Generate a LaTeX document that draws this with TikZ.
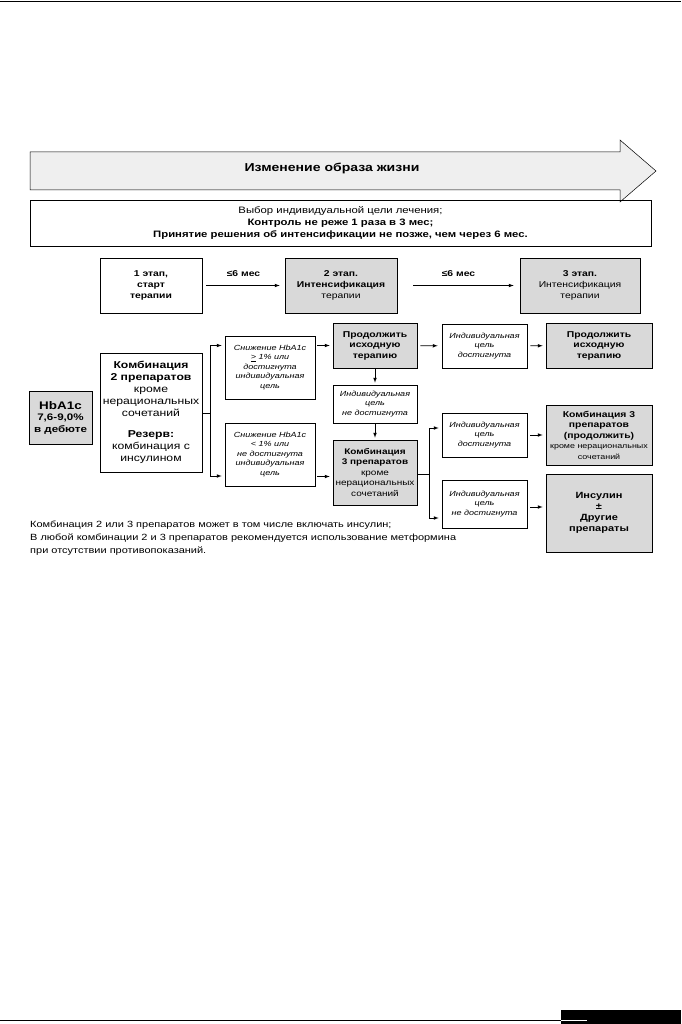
\documentclass[tikz,border=0pt]{standalone}
\usepackage{fontspec}
\setmainfont[FakeStretch=1.22]{Liberation Sans}
\usepackage{xcolor}
\definecolor{boxGray}{RGB}{217,217,217}
\definecolor{arrowGray}{RGB}{239,239,239}

\begin{document}
\begin{tikzpicture}[x=1pt,y=-1pt]
    % --- STYLES ---
    \tikzset{
        plainBox/.style={draw=black, line width=0.7pt, align=center, inner sep=1pt, font=\fontsize{8.5}{10.5}\selectfont},
        grayBox/.style={plainBox, fill=boxGray},
        noteBox/.style={plainBox, font=\itshape\fontsize{7.4}{9.5}\selectfont},
        arrowLine/.style={-latex, draw=black, line width=0.7pt},
        joinLine/.style={draw=black, line width=0.7pt}
    }

    % --- PAGE FRAME ---
    \useasboundingbox (0,0) rectangle (681,1024);
    \draw[line width=1pt] (0,2) -- (681,2);
    \fill (561,1010) rectangle (681,1024);
    \draw[line width=0.8pt] (0,1020) -- (561,1020);
    \draw[white, line width=0.8pt] (561,1020) -- (587,1020);

    % --- TOP ARROW AND GOAL BOX ---
    \filldraw[fill=arrowGray, draw=black, line width=0.5pt]
        (30,152) -- (620,152) -- (620,140) -- (656,171) -- (620,202) -- (620,190) -- (30,190) -- cycle;
    \node[font=\bfseries\fontsize{11.5}{13}\selectfont] (lifestyle) at (332,168) {Изменение образа жизни};

    \node[plainBox, minimum width=621pt, minimum height=46pt, font=\fontsize{9.3}{12}\selectfont] (goal) at (340.5,223)
        {Выбор индивидуальной цели лечения;\\\textbf{Контроль не реже 1 раза в 3 мес;}\\\textbf{Принятие решения об интенсификации не позже, чем через 6 мес.}};

    % --- STAGES ---
    \node[plainBox, minimum width=102pt, minimum height=55pt, font=\bfseries\fontsize{8.5}{11}\selectfont] (s1) at (151,285.5)
        {1 этап,\\старт\\терапии};
    \node[grayBox, minimum width=112pt, minimum height=55pt, font=\fontsize{8.5}{11}\selectfont] (s2) at (341,285.5)
        {\textbf{2 этап.}\\\textbf{Интенсификация}\\терапии};
    \node[grayBox, minimum width=120pt, minimum height=55pt, font=\fontsize{8.5}{11}\selectfont] (s3) at (580,285.5)
        {\textbf{3 этап.}\\Интенсификация\\терапии};

    \draw[arrowLine, shorten <=4pt, shorten >=5pt] (s1) -- node[above=5pt, font=\bfseries\fontsize{8.5}{10}\selectfont] {≤6 мес} (s2);
    \draw[arrowLine, shorten <=16pt, shorten >=6pt] (s2) -- node[above=5pt, font=\bfseries\fontsize{8.5}{10}\selectfont] {≤6 мес} (s3);

    % --- LEFT COLUMN ---
    \node[grayBox, minimum width=63pt, minimum height=53pt, font=\bfseries\fontsize{9.5}{11.5}\selectfont] (hba) at (60.5,417.5)
        {{\fontsize{11}{13}\selectfont HbA1c}\\7,6-9,0\%\\в дебюте};
    \node[plainBox, minimum width=102pt, minimum height=119pt, font=\fontsize{10}{12}\selectfont] (comb2) at (151,412.5)
        {\textbf{Комбинация}\\\textbf{2 препаратов}\\кроме\\нерациональных\\сочетаний\\[9pt]\textbf{Резерв:}\\комбинация с\\инсулином};

    \node[noteBox, minimum width=90pt, minimum height=63pt] (lowA) at (270,367.5)
        {Снижение HbA1c\\\underline{>} 1\% или\\достигнута\\индивидуальная\\цель};
    \node[noteBox, minimum width=90pt, minimum height=63pt] (lowB) at (270,454.5)
        {Снижение HbA1c\\< 1\% или\\не достигнута\\индивидуальная\\цель};

    \coordinate (fork1) at (210,413);
    \draw[joinLine] (comb2.east |- fork1) -- (fork1);
    \draw[arrowLine, shorten >=3pt] (fork1) |- ([yshift=22pt]lowA.west);
    \draw[arrowLine, shorten >=3pt] (fork1) |- ([yshift=-21.5pt]lowB.west);

    % --- MIDDLE COLUMN ---
    \node[grayBox, minimum width=84pt, minimum height=45pt, font=\bfseries\fontsize{8.5}{10.5}\selectfont] (cont1) at (375,345.5)
        {Продолжить\\исходную\\терапию};
    \node[noteBox, minimum width=84pt, minimum height=38pt] (miss1) at (375,404)
        {Индивидуальная\\цель\\не достигнута};
    \node[grayBox, minimum width=84pt, minimum height=65pt, font=\fontsize{8.2}{10.5}\selectfont] (comb3) at (375,472.5)
        {\textbf{Комбинация}\\\textbf{3 препаратов}\\кроме\\нерациональных\\сочетаний};

    \draw[arrowLine, shorten <=2pt, shorten >=3pt] ([yshift=22pt]lowA.east) -- (cont1.west);
    \draw[arrowLine, shorten <=2pt, shorten >=3pt] ([yshift=-22pt]lowB.east) -- ([yshift=-22pt]lowB.east -| comb3.west);
    \draw[arrowLine, shorten >=2pt] (cont1) -- (miss1);
    \draw[arrowLine, shorten >=2pt] (miss1) -- (comb3);

    % --- RIGHT COLUMNS ---
    \node[noteBox, minimum width=85pt, minimum height=44pt] (hit1) at (484.5,346)
        {Индивидуальная\\цель\\достигнута};
    \node[grayBox, minimum width=106pt, minimum height=45pt, font=\bfseries\fontsize{8.5}{10.5}\selectfont] (cont2) at (599,345.5)
        {Продолжить\\исходную\\терапию};
    \node[noteBox, minimum width=85pt, minimum height=44pt] (hit2) at (484.5,435)
        {Индивидуальная\\цель\\достигнута};
    \node[noteBox, minimum width=85pt, minimum height=48pt] (miss2) at (484.5,504)
        {Индивидуальная\\цель\\не достигнута};
    \node[grayBox, minimum width=106pt, minimum height=60pt, font=\bfseries\fontsize{8.5}{10.5}\selectfont] (comb3cont) at (599,435)
        {Комбинация 3\\препаратов\\(продолжить)\\{\mdseries\fontsize{7.3}{8.5}\selectfont кроме нерациональных}\\{\mdseries\fontsize{7.3}{8.5}\selectfont сочетаний}};
    \node[grayBox, minimum width=106pt, minimum height=78pt, font=\bfseries\fontsize{9}{11}\selectfont] (insulin) at (599,513)
        {Инсулин\\±\\Другие\\препараты};

    \draw[arrowLine, shorten <=3pt, shorten >=4pt] (cont1) -- (hit1);
    \draw[arrowLine, shorten <=3pt, shorten >=3pt] (hit1) -- (cont2);

    \coordinate (fork2) at (429,474);
    \draw[joinLine] (comb3.east |- fork2) -- (fork2);
    \draw[arrowLine, shorten >=3pt] (fork2) |- ([yshift=7pt]hit2.west);
    \draw[arrowLine, shorten >=3pt] (fork2) |- ([yshift=-14pt]miss2.west);
    \draw[arrowLine, shorten <=3pt, shorten >=3pt] (hit2) -- (comb3cont);
    \draw[arrowLine, shorten <=3pt, shorten >=3pt] ([yshift=-3pt]miss2.east) -- ([yshift=-3pt]miss2.east -| insulin.west);

    % --- FOOTNOTE ---
    \node[anchor=west, align=left, inner sep=0pt, font=\fontsize{9}{13}\selectfont] (footnote) at (30,538)
        {Комбинация 2 или 3 препаратов может в том числе включать инсулин;\\
         В любой комбинации 2 и 3 препаратов рекомендуется использование метформина\\
         при отсутствии противопоказаний.};
\end{tikzpicture}
\end{document}
